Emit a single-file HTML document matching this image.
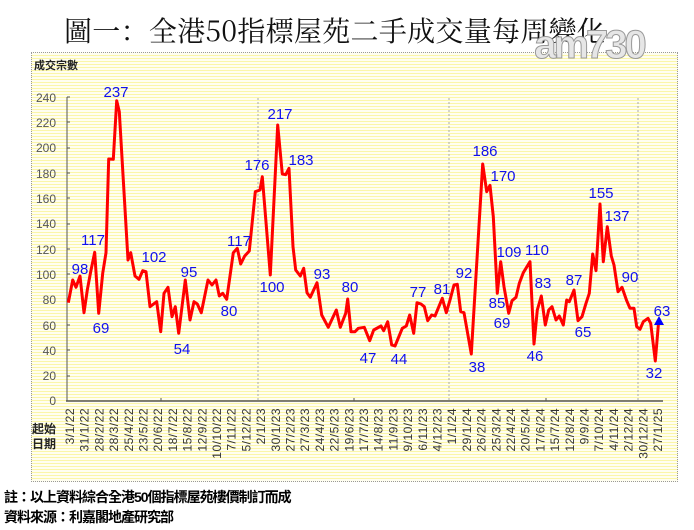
<!DOCTYPE html>
<html><head><meta charset="utf-8"><style>
body{margin:0;background:#fff;width:694px;height:530px;overflow:hidden;position:relative;font-family:"Liberation Sans","Noto Sans CJK TC",sans-serif}
.box{position:absolute;left:31px;top:52px;width:645px;height:428px;border:1px dotted #999;background:repeating-linear-gradient(to bottom,#fffef0 0px,#fffef0 2px,#fbf6a8 2px,#fbf6a8 3px)}
svg{position:absolute;left:0;top:0}
.title{position:absolute;left:64px;top:10px;font-family:"Noto Serif CJK SC","Noto Sans CJK TC",serif;font-size:28px;color:#111;letter-spacing:0.3px;white-space:nowrap}
.note{position:absolute;left:4px;font-size:14px;font-weight:bold;color:#000;white-space:nowrap;letter-spacing:-1px}
</style></head><body>
<div class="title">圖一：全港50指標屋苑二手成交量每周變化</div>
<div class="box"></div>
<svg width="694" height="530" viewBox="0 0 694 530">
<text x="589" y="58" font-size="40" font-weight="bold" font-family="Liberation Sans, sans-serif" fill="#e6e6e6" stroke="#999" stroke-width="1" text-anchor="middle" letter-spacing="-3">am730</text>
<text x="34" y="69" font-size="11" font-weight="bold" fill="#222" font-family="Liberation Sans, Noto Sans CJK TC, sans-serif">成交宗數</text>
<g font-size="12" fill="#555" text-anchor="end" font-family="Liberation Sans, sans-serif">
<text x="56" y="405">0</text><text x="56" y="380">20</text><text x="56" y="355">40</text><text x="56" y="330">60</text><text x="56" y="304">80</text><text x="56" y="279">100</text><text x="56" y="254">120</text><text x="56" y="228">140</text><text x="56" y="203">160</text><text x="56" y="178">180</text><text x="56" y="152">200</text><text x="56" y="127">220</text><text x="56" y="102">240</text>
</g>
<g stroke="#555" stroke-width="1">
<line x1="67" y1="97" x2="67" y2="401"/>
<line x1="66" y1="401" x2="663" y2="401" stroke-width="1.5"/>
<path d="M67 97h3M67 122h3M67 148h3M67 173h3M67 198h3M67 224h3M67 249h3M67 274h3M67 300h3M67 325h3M67 350h3M67 376h3M161 401v-3M354 401v-3M546 401v-3"/>
</g>
<g stroke="#aaa" stroke-width="1" stroke-dasharray="2,2">
<line x1="258" y1="98" x2="258" y2="401"/><line x1="449" y1="98" x2="449" y2="401"/><line x1="638" y1="98" x2="638" y2="401"/>
</g>
<polyline fill="none" stroke="#ff0000" stroke-width="3" stroke-linejoin="round" points="
68.3,302.7 72.7,280 76,287.3 80,276 84,312.7 87.3,290 90.7,271.7 94.7,252.3 98.7,313.3 102.7,273.3 106,252.7 108.7,159 113.3,159.3 116.7,100.7 119.3,111.7 123.3,180 128,260 130.7,252.7 135,276 139,279.3 142.7,270.7 146,271.7 150,306.7 156.7,301.7 160.7,331.7 164,293.3 168,287.3 172,316.7 175.3,306.7 178.7,333.3 185.3,280 190,320 194,301.7 197.3,304 201.3,312.7 208,280 212,285 216,280 219.3,296 222.7,293.3 226.7,299.3 233.3,252.7 237.3,248.3 240.7,264 244.7,256 249.3,251 255.3,191.7 260,190 262.3,176.7 270.3,275 277.7,125 282.3,174 285.7,174.7 289,168.3 293,246.7 295.7,270 300.3,276 303.7,268.3 307,292.7 310.3,297.3 317,282.7 321.7,315 328.3,327.3 336.3,310 340.3,327.3 345.7,313.3 347.7,299 351,331.7 355,331.7 358.3,328.3 364.3,327.3 369.7,340.7 373.7,330 381,326 383.7,330.7 387.7,321.7 391.7,345 395,346 402.3,328.3 406.3,326 409.7,315 413.7,333.3 417,302.7 421,304 424.3,306.7 427.7,320.7 431.7,315 435,316 442.3,298.3 446.3,312.7
450,300 454,285 457.3,284.3 460.7,311.7 464,312.7 471.3,354 482.7,164 486.7,191.7 490,185.3 493.3,216.7 497.3,293.3 500.7,261.7 504,286.7 508.7,313.3 512,300.7 516,297.3 519.3,283.3 523.3,272.7 530,261.7 534,344 537.3,310 541.3,296 545.3,325 548.7,310 552,306.7 556,320 559.3,316 563.3,325 566.7,300 569.3,301.7 574,290 578,320.7 582,316.7 586,303.3 589.3,293.3 592.7,254 596,270.7 600,204 603.3,261.7 607.3,226.7 611.3,256 614,265 618,291.7 622,287.3 626.7,300.7 630,308.3 634,308.3 636.7,326.7 640,329.3 643.3,321.7 648,318.3 650.7,323.3 655.3,361 658.7,320.7"/>
<polygon points="659,316 664,325 654,325" fill="#0000ff"/>
<g font-size="15" fill="#1010ee" text-anchor="middle" font-family="Liberation Sans, sans-serif">
<text x="80" y="274">98</text><text x="93" y="245">117</text><text x="101" y="333">69</text><text x="116" y="97">237</text><text x="154" y="262">102</text><text x="189" y="277">95</text><text x="182" y="354">54</text><text x="229" y="316">80</text><text x="239" y="246">117</text><text x="257" y="170">176</text>
<text x="272" y="292">100</text><text x="280" y="119">217</text><text x="301" y="165">183</text><text x="322" y="279">93</text><text x="350" y="292">80</text><text x="368" y="363">47</text><text x="399" y="364">44</text><text x="418" y="297">77</text><text x="442" y="294">81</text>
<text x="464" y="278">92</text><text x="477" y="372">38</text><text x="485" y="156">186</text><text x="503" y="181">170</text><text x="497" y="308">85</text><text x="509" y="257">109</text><text x="502" y="328">69</text><text x="537" y="255">110</text><text x="543" y="288">83</text><text x="535" y="361">46</text><text x="574" y="285">87</text><text x="583" y="337">65</text><text x="601" y="198">155</text><text x="617" y="221">137</text><text x="630" y="282">90</text><text x="654" y="378">32</text><text x="662" y="316">63</text>
</g>
<g font-size="12" fill="#333" font-family="Liberation Sans, sans-serif" text-anchor="end" letter-spacing="0.5">
<text transform="translate(74,408) rotate(-90)">3/1/22</text>
<text transform="translate(88.7,408) rotate(-90)">31/1/22</text>
<text transform="translate(103.4,408) rotate(-90)">28/2/22</text>
<text transform="translate(118.1,408) rotate(-90)">28/3/22</text>
<text transform="translate(132.8,408) rotate(-90)">25/4/22</text>
<text transform="translate(147.5,408) rotate(-90)">23/5/22</text>
<text transform="translate(162.2,408) rotate(-90)">20/6/22</text>
<text transform="translate(176.9,408) rotate(-90)">18/7/22</text>
<text transform="translate(191.6,408) rotate(-90)">15/8/22</text>
<text transform="translate(206.3,408) rotate(-90)">12/9/22</text>
<text transform="translate(221,408) rotate(-90)">10/10/22</text>
<text transform="translate(235.7,408) rotate(-90)">7/11/22</text>
<text transform="translate(250.4,408) rotate(-90)">5/12/22</text>
<text transform="translate(265.1,408) rotate(-90)">2/1/23</text>
<text transform="translate(279.8,408) rotate(-90)">30/1/23</text>
<text transform="translate(294.5,408) rotate(-90)">27/2/23</text>
<text transform="translate(309.2,408) rotate(-90)">27/3/23</text>
<text transform="translate(323.9,408) rotate(-90)">24/4/23</text>
<text transform="translate(338.6,408) rotate(-90)">22/5/23</text>
<text transform="translate(353.3,408) rotate(-90)">19/6/23</text>
<text transform="translate(368,408) rotate(-90)">17/7/23</text>
<text transform="translate(382.7,408) rotate(-90)">14/8/23</text>
<text transform="translate(397.4,408) rotate(-90)">11/9/23</text>
<text transform="translate(412.1,408) rotate(-90)">9/10/23</text>
<text transform="translate(426.8,408) rotate(-90)">6/11/23</text>
<text transform="translate(441.5,408) rotate(-90)">4/12/23</text>
<text transform="translate(456.2,408) rotate(-90)">1/1/24</text>
<text transform="translate(470.9,408) rotate(-90)">29/1/24</text>
<text transform="translate(485.6,408) rotate(-90)">26/2/24</text>
<text transform="translate(500.3,408) rotate(-90)">25/3/24</text>
<text transform="translate(515,408) rotate(-90)">22/4/24</text>
<text transform="translate(529.7,408) rotate(-90)">20/5/24</text>
<text transform="translate(544.4,408) rotate(-90)">17/6/24</text>
<text transform="translate(559.1,408) rotate(-90)">15/7/24</text>
<text transform="translate(573.8,408) rotate(-90)">12/8/24</text>
<text transform="translate(588.5,408) rotate(-90)">9/9/24</text>
<text transform="translate(603.2,408) rotate(-90)">7/10/24</text>
<text transform="translate(617.9,408) rotate(-90)">4/11/24</text>
<text transform="translate(632.6,408) rotate(-90)">2/12/24</text>
<text transform="translate(647.3,408) rotate(-90)">30/12/24</text>
<text transform="translate(662,408) rotate(-90)">27/1/25</text>
</g>
<g font-size="12" font-weight="bold" fill="#222" font-family="Liberation Sans, Noto Sans CJK TC, sans-serif" text-anchor="middle">
<text x="44" y="433">起始</text><text x="44" y="448">日期</text>
</g>
</svg>
<div class="note" style="top:487px">註：以上資料綜合全港50個指標屋苑樓價制訂而成</div>
<div class="note" style="top:507px">資料來源：利嘉閣地產研究部</div>
</body></html>
